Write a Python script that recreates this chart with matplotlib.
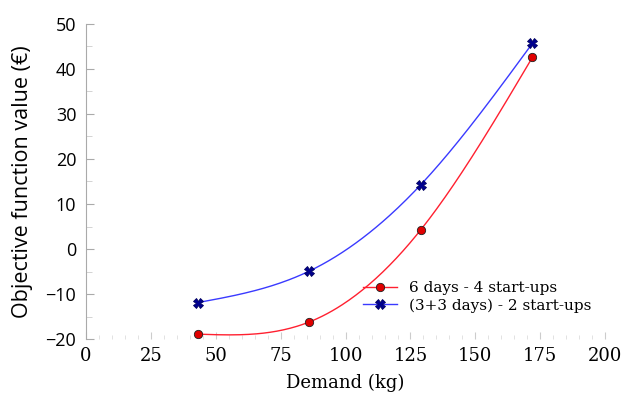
import numpy as np
import matplotlib
matplotlib.use("Agg")
import matplotlib.pyplot as plt
from matplotlib.ticker import MultipleLocator

demand = [43, 86, 129, 172]
six_days = [-18.9, -16.2, 4.3, 42.6]
three_three = [-11.9, -4.9, 14.3, 45.7]
xticks = [0, 25, 50, 75, 100, 125, 150, 175, 200]
yticks = [-20, -10, 0, 10, 20, 30, 40, 50]


def natural_spline(x, y, n=200):
    x = np.asarray(x, float); y = np.asarray(y, float)
    k = len(x); h = np.diff(x)
    A = np.zeros((k, k)); b = np.zeros(k)
    A[0, 0] = A[-1, -1] = 1
    for i in range(1, k - 1):
        A[i, i - 1] = h[i - 1]; A[i, i] = 2 * (h[i - 1] + h[i]); A[i, i + 1] = h[i]
        b[i] = 3 * ((y[i + 1] - y[i]) / h[i] - (y[i] - y[i - 1]) / h[i - 1])
    c = np.linalg.solve(A, b)
    xs = np.linspace(x[0], x[-1], n); ys = np.empty_like(xs)
    for j, xv in enumerate(xs):
        i = min(np.searchsorted(x, xv, side='right') - 1, k - 2)
        d = xv - x[i]
        bb = (y[i + 1] - y[i]) / h[i] - h[i] * (2 * c[i] + c[i + 1]) / 3
        dd = (c[i + 1] - c[i]) / (3 * h[i])
        ys[j] = y[i] + bb * d + c[i] * d ** 2 + dd * d ** 3
    return xs, ys


plt.rcParams['font.family'] = ['DejaVu Serif']
fig = plt.figure(figsize=(6.21, 3.98), dpi=100)
ax = fig.add_axes([0.1385, 0.148, 0.836, 0.792])

for yv, col, mk, ms, lab in [(six_days, '#ff2030', 'o', 6, '6 days - 4 start-ups'),
                             (three_three, '#3a3aff', 'X', 6.5, '(3+3 days) - 2 start-ups')]:
    xs, ys = natural_spline(demand, yv)
    ax.plot(xs, ys, color=col, lw=1.0)
    mcol = '#e00000' if mk == 'o' else '#000090'
    mec = '#202020' if mk == 'o' else '#000060'
    ax.plot(demand, yv, linestyle='none', marker=mk, ms=ms, mfc=mcol, mec=mec, mew=0.6)
    ax.plot([], [], color=col, lw=1.0, marker=mk, ms=ms, mfc=mcol, mec=mec, mew=0.6, label=lab)

ax.set_xlim(0, 200)
ax.set_ylim(-20, 50)
ax.set_xticks(xticks)
ax.set_yticks(yticks)
ax.set_yticklabels([str(v).replace('-', '\u2212') for v in yticks], family='Open Sans')
ax.yaxis.set_minor_locator(MultipleLocator(5))
ax.xaxis.set_minor_locator(MultipleLocator(5))
for s in ['top', 'right', 'bottom']:
    ax.spines[s].set_visible(False)
ax.spines['left'].set_color('#aaaaaa')
ax.tick_params(axis='y', direction='in', length=6, color='#aaaaaa', labelsize=13, pad=7, which='major')
ax.tick_params(axis='y', direction='in', length=4, color='#cccccc', which='minor')
ax.tick_params(axis='x', direction='in', length=5, color='#cccccc', labelsize=13, pad=6, which='major')
ax.tick_params(axis='x', direction='in', length=3, color='#dddddd', which='minor')
ax.set_xlabel('Demand (kg)', fontsize=13, labelpad=6)
ax.set_ylabel('Objective function value (€)', fontsize=15.5, family='Open Sans', labelpad=9)
ax.legend(loc='lower right', bbox_to_anchor=(1.0, 0.04), frameon=False, fontsize=11,
          handlelength=2.2, labelspacing=0.2)

fig.savefig('out.png', dpi=100)
